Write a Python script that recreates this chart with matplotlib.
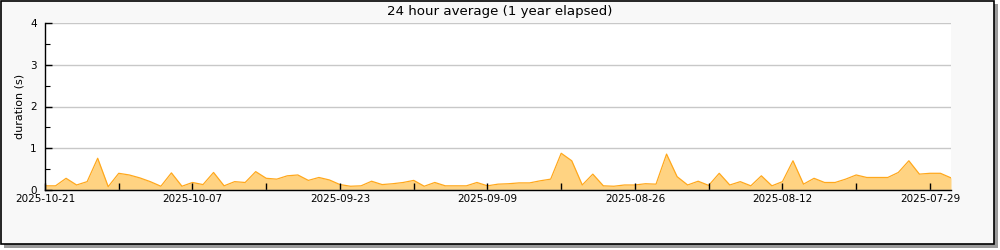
#!/usr/bin/env python3
"""24 hour average duration chart, last ~3 months shown newest first."""
import matplotlib
matplotlib.use("Agg")
import matplotlib.pyplot as plt
from matplotlib.patches import Rectangle
from matplotlib.ticker import MultipleLocator
import pandas as pd

# newest day first, one value per day (seconds)
start_date = "2025-10-21"
durations = [
    0.10, 0.10, 0.28, 0.12, 0.20, 0.76, 0.08, 0.40, 0.36, 0.29,
    0.20, 0.09, 0.41, 0.09, 0.18, 0.13, 0.42, 0.10, 0.20, 0.18,
    0.44, 0.28, 0.26, 0.34, 0.36, 0.23, 0.30, 0.24, 0.13, 0.09,
    0.10, 0.21, 0.13, 0.15, 0.18, 0.23, 0.09, 0.18, 0.10, 0.10,
    0.10, 0.18, 0.10, 0.14, 0.15, 0.17, 0.17, 0.22, 0.26, 0.88,
    0.70, 0.12, 0.38, 0.10, 0.09, 0.12, 0.12, 0.15, 0.14, 0.86,
    0.32, 0.12, 0.21, 0.11, 0.40, 0.12, 0.20, 0.10, 0.34, 0.10,
    0.20, 0.70, 0.14, 0.28, 0.18, 0.18, 0.26, 0.36, 0.30, 0.30,
    0.30, 0.42, 0.70, 0.38, 0.40, 0.40, 0.29,
]
y_ticks = [0, 1, 2, 3, 4]
title = "24 hour average (1 year elapsed)"
y_label = "duration (s)"

dates = pd.date_range(start=start_date, periods=len(durations), freq="-1D")

fig = plt.figure(figsize=(10, 2.5), dpi=100, facecolor="white")

# drop shadow + framed panel
fig.patches.append(Rectangle((0.004, 0.008), 0.994, 0.976, transform=fig.transFigure,
                             facecolor="#9a9a9a", edgecolor="none", zorder=-3))
fig.patches.append(Rectangle((0.0008, 0.024), 0.993, 0.974, transform=fig.transFigure,
                             facecolor="#f8f8f8", edgecolor="black", linewidth=1.2, zorder=-2))

ax = fig.add_axes([0.045, 0.24, 0.906, 0.668])
ax.set_facecolor("white")

ax.fill_between(dates, durations, 0, color="#ffd382", linewidth=0, zorder=2)
ax.plot(dates, durations, color="#ffa81c", linewidth=0.9, zorder=3)

ax.set_xlim(dates[0], dates[-1])
ax.set_ylim(0, 4)

ax.set_yticks(y_ticks)
ax.yaxis.set_minor_locator(MultipleLocator(0.5))
ax.grid(axis="y", which="major", color="#c8c8c8", linewidth=1.0)

week_ticks = dates[::7]
ax.set_xticks(week_ticks)
ax.set_xticklabels([d.strftime("%Y-%m-%d") if i % 2 == 0 else "" for i, d in enumerate(week_ticks)])

ax.tick_params(axis="both", which="major", direction="in", length=5, width=1,
               labelsize=7.5, colors="black")
ax.tick_params(axis="y", which="minor", direction="in", length=3.5, width=0.8)
ax.tick_params(axis="x", pad=3)
ax.tick_params(axis="y", pad=6)

# tick marks sit on top of the filled area
ax.xaxis.set_zorder(5)
ax.yaxis.set_zorder(5)

for side in ("top", "right"):
    ax.spines[side].set_visible(False)
for side in ("left", "bottom"):
    ax.spines[side].set_linewidth(1.0)
    ax.spines[side].set_zorder(6)

ax.set_ylabel(y_label, fontsize=8, labelpad=4)
fig.text(0.5, 0.955, title, ha="center", va="center", fontsize=9.6)

fig.savefig("out.png", dpi=100, facecolor=fig.get_facecolor())
plt.close(fig)
